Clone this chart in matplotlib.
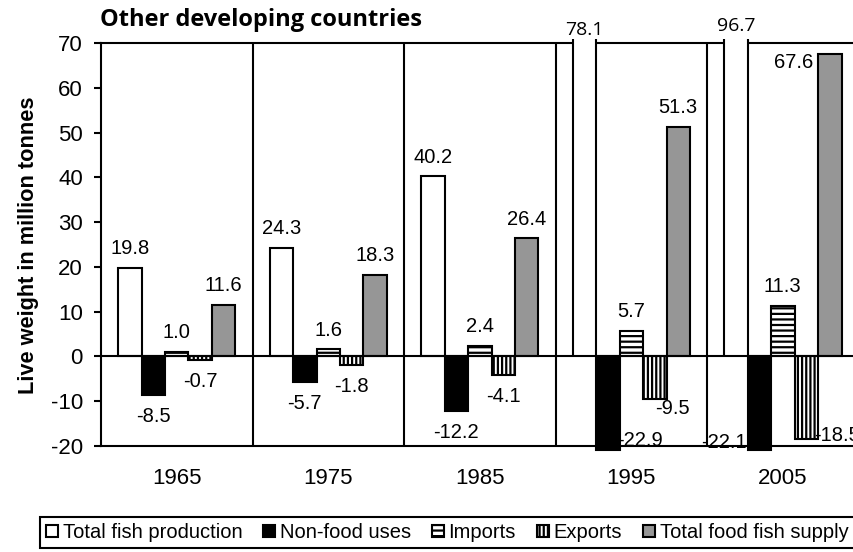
import numpy as np
import matplotlib
matplotlib.use("Agg")
import matplotlib.pyplot as plt
from matplotlib.patches import Patch

# values (million tonnes, live weight)
years = ["1965", "1975", "1985", "1995", "2005"]
production = [19.8, 24.3, 40.2, 78.1, 96.7]
nonfood = [-8.5, -5.7, -12.2, -22.9, -22.1]
imports = [1.0, 1.6, 2.4, 5.7, 11.3]
exports = [-0.7, -1.8, -4.1, -9.5, -18.5]
food_supply = [11.6, 18.3, 26.4, 51.3, 67.6]

series_names = ["Total fish production", "Non-food uses", "Imports",
                "Exports", "Total food fish supply"]

plt.rcParams["font.family"] = ["Liberation Sans", "DejaVu Sans"]
plt.rcParams["axes.unicode_minus"] = False
plt.rcParams["hatch.linewidth"] = 1.6

YMIN, YMAX = -20, 70
PX = 100 / 72.0  # pixels per point

styles = [
    dict(facecolor="white", hatch=None),
    dict(facecolor="black", hatch=None),
    dict(facecolor="white", hatch="---"),
    dict(facecolor="white", hatch="||||"),
    dict(facecolor="#969696", hatch=None),
]

fig = plt.figure(figsize=(8.54, 5.52), dpi=100)
ax = fig.add_axes([101 / 854, 1 - 446 / 552, 1 - 101 / 854, (446 - 43) / 552])

x = np.arange(len(years))
w = 0.155
all_series = [production, nonfood, imports, exports, food_supply]

# label offsets in pixels (dx, dy up) for labels that were moved around
label_offsets = {
    (3, 1): (32, 6, "axis"),
    (4, 1): (-35, 4, "axis"),
    (3, 3): (18, -9.5, "end"),
    (4, 3): (31, 4, "end"),
    (4, 4): (-36, -9, "end"),
}

for si, (vals, st) in enumerate(zip(all_series, styles)):
    xs = x + (si - 2) * w
    for i, v in enumerate(vals):
        if v > YMAX:
            # broken bar: open top poking out of the frame
            top = YMAX + 4 / 4.48
            ax.bar(xs[i], top, w, color="white", edgecolor="none",
                   clip_on=False, zorder=4)
            ax.vlines([xs[i] - w / 2, xs[i] + w / 2], 0, top, color="black",
                      lw=1.5, clip_on=False, zorder=5)
            dy = 13 if i == 3 else 17
            ax.annotate(f"{v:.1f}", (xs[i], YMAX), xytext=(0, dy / PX),
                        textcoords="offset points", ha="center", va="center",
                        fontsize=14, family=["Open Sans", "DejaVu Sans"],
                        annotation_clip=False)
            continue
        h = max(v, YMIN - 1)
        ax.bar(xs[i], h, w, color=st["facecolor"], edgecolor="black",
               hatch=st["hatch"], lw=1.5, clip_on=False, zorder=3)
        if (i, si) in label_offsets:
            dx, dy, ref = label_offsets[(i, si)]
            y_ref = YMIN if ref == "axis" else v
        else:
            dx, dy, y_ref = 0, (19 if v >= 0 else -21.5), v
        ax.annotate(f"{v:.1f}", (xs[i], y_ref), xytext=(dx / PX, dy / PX),
                    textcoords="offset points", ha="center", va="center",
                    fontsize=14.5, annotation_clip=False, zorder=7)

# group separators and zero line
ax.vlines(x[:-1] + 0.5, YMIN, YMAX, color="black", lw=1.5, zorder=2)
ax.axhline(0, color="black", lw=1.5, zorder=6)

ax.set_xlim(-0.5, 4.47)
ax.set_ylim(YMIN, YMAX)
ax.set_yticks(np.arange(YMIN, YMAX + 1, 10))
ax.set_xticks(x)
ax.set_xticklabels(years)
ax.tick_params(axis="y", direction="out", length=5, width=1.5, pad=8, labelsize=16)
ax.tick_params(axis="x", length=0, pad=16, labelsize=16)
for side in ["left", "top", "bottom"]:
    ax.spines[side].set_linewidth(1.5)
ax.spines["right"].set_visible(False)

fig.text(29 / 854, 1 - 245 / 552, "Live weight in million tonnes", fontsize=15.7,
         fontweight="bold", rotation=90, ha="center", va="center")
fig.text(100 / 854, 1 - 20 / 552, "Other developing countries", fontsize=17,
         fontweight="bold", family=["Open Sans", "DejaVu Sans"], va="center")

handles = [Patch(facecolor=st["facecolor"], edgecolor="black", hatch=st["hatch"],
                 lw=1.5) for st in styles]
leg = fig.legend(handles, series_names, loc="upper left",
                 bbox_to_anchor=(40 / 854, 1 - 517 / 552), ncol=5, fontsize=14.5,
                 frameon=True, fancybox=False, framealpha=1, edgecolor="black",
                 handlelength=0.6, handleheight=0.6, handletextpad=0.22,
                 columnspacing=1.05, borderpad=0.3, borderaxespad=0)
leg.get_frame().set_linewidth(1.5)

fig.savefig("out.png", dpi=100)
